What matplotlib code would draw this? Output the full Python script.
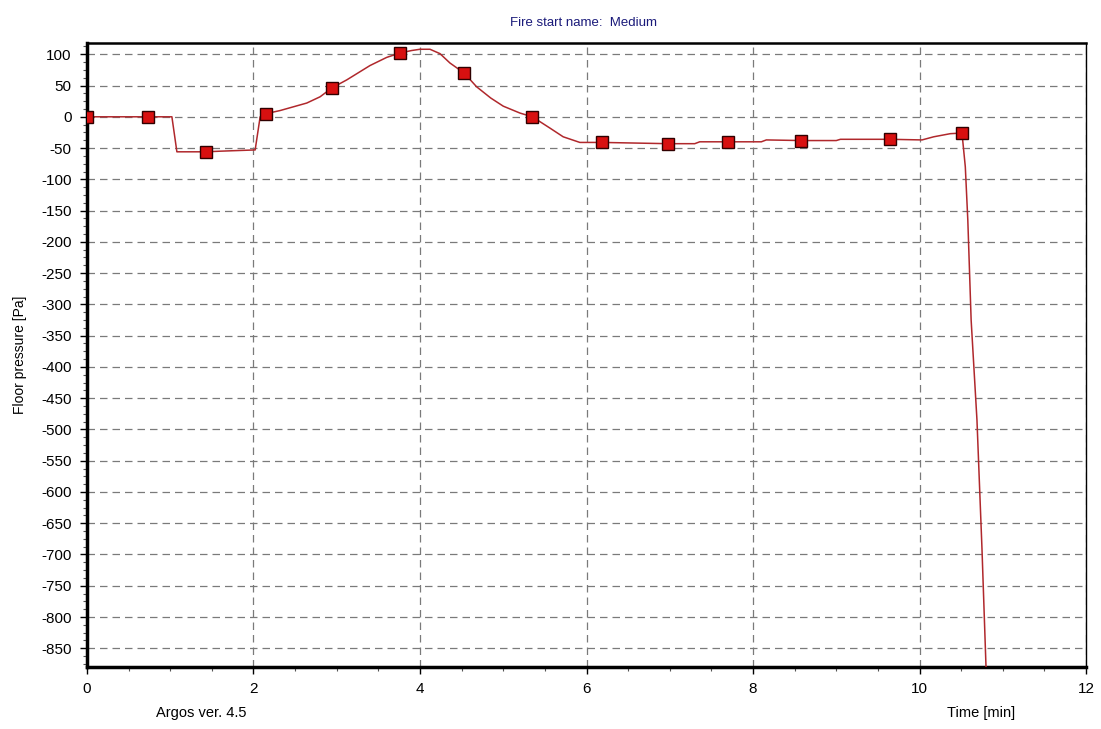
import numpy as np
import matplotlib
matplotlib.use('Agg')
import matplotlib.pyplot as plt
from matplotlib.ticker import MultipleLocator

plt.rcParams['font.family'] = ['Liberation Sans', 'DejaVu Sans']
plt.rcParams['axes.unicode_minus'] = False

# floor pressure trace [min, Pa]
t_curve = [0.0, 0.73, 1.02, 1.08, 1.43, 1.60, 2.02, 2.08, 2.15, 2.32, 2.64,
           2.80, 2.94, 3.12, 3.40, 3.60, 3.76, 3.90, 4.00, 4.12, 4.24, 4.36,
           4.53, 4.68, 4.85, 5.00, 5.20, 5.35, 5.56, 5.72, 5.92, 6.19, 6.98,
           7.30, 7.36, 7.70, 8.10, 8.16, 8.58, 9.00, 9.05, 9.65, 10.03, 10.17,
           10.37, 10.51, 10.55, 10.58, 10.62, 10.69, 10.75, 10.80]
p_curve = [0, 0, 0, -56, -56, -55, -53, 0, 5, 10, 22,
           32, 46, 59, 82, 95, 102, 106, 108, 108, 101, 86,
           70, 48, 30, 17, 6, 0, -18, -32, -41, -41, -43,
           -43, -40, -40, -40, -37, -38, -38, -36, -36, -37, -32,
           -27, -26, -80, -165, -325, -485, -690, -885]

# sampled points shown with markers
t_marks = [0.0, 0.73, 1.43, 2.15, 2.94, 3.76, 4.53, 5.35, 6.19, 6.98, 7.70,
           8.58, 9.65, 10.51]
p_marks = [0, 0, -56, 5, 46, 102, 70, 0, -41, -43, -40, -38, -36, -26]

fig = plt.figure(figsize=(11.01, 7.29), dpi=100)
ax = fig.add_axes([0.079, 0.085, 0.9074, 0.856])

ax.plot(t_curve, p_curve, color='#b0282c', linewidth=1.1, zorder=3)
ax.plot(t_marks, p_marks, linestyle='none', marker='s', markersize=8,
        markerfacecolor='#d81010', markeredgecolor='#300000',
        markeredgewidth=1.0, zorder=4)

ax.set_xlim(0, 12)
ax.set_ylim(-880, 118)
ax.xaxis.set_major_locator(MultipleLocator(2))
ax.xaxis.set_minor_locator(MultipleLocator(0.5))
ax.yaxis.set_minor_locator(MultipleLocator(12.5))
ax.set_yticks(np.arange(-850, 101, 50))

ax.grid(True, which='major', color='#7a7a7a', linestyle=(0, (6, 4)),
        linewidth=0.9)
ax.tick_params(which='major', direction='out', length=5, width=1,
               labelsize=11, colors='black')
ax.tick_params(which='minor', direction='out', length=3, width=0.8,
               colors='#555555')
ax.tick_params(axis='y', pad=6)
ax.tick_params(axis='x', pad=6)

for side, lw in [('left', 2.5), ('bottom', 2.5), ('top', 1.8), ('right', 1.0)]:
    ax.spines[side].set_linewidth(lw)
    ax.spines[side].set_color('black')

ax.set_ylabel('Floor pressure [Pa]', fontsize=10, labelpad=10)
fig.text(0.53, 0.969, 'Fire start name:  Medium', ha='center', va='center',
         fontsize=9.5, color='#1a1a7a')
fig.text(0.142, 0.013, 'Argos ver. 4.5', ha='left', va='bottom', fontsize=10.5)
fig.text(0.922, 0.013, 'Time [min]', ha='right', va='bottom', fontsize=10.5)

fig.savefig('out.png', dpi=100)
